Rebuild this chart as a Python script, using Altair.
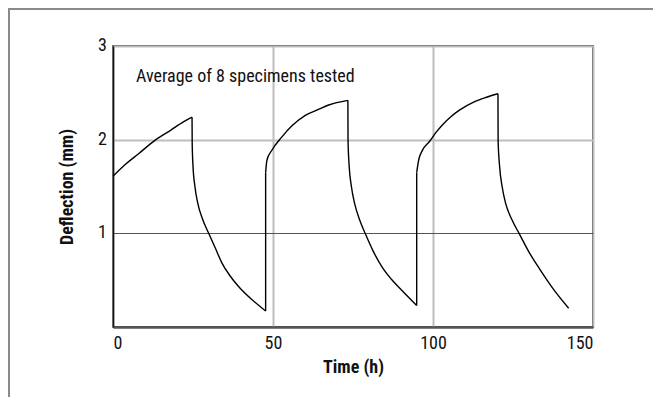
import altair as alt
import pandas as pd

# Curve pieces (segment id, time h, deflection mm)
seg_id = ([1] * 7 + [2] * 13 + [3] * 9 + [4] * 12 + [5] * 11 + [6] * 11)
time_h = [0, 4, 8, 13, 18, 22, 24.7,
          24.7, 24.75, 25.0, 25.6, 26.5, 28.0, 29.9, 32, 34.1, 36.5, 39.3, 43.5, 47.7,
          47.7, 48.1, 49.7, 52.8, 56, 60.1, 64, 67.4, 73.4,
          73.4, 73.45, 73.8, 74.5, 75.5, 77.0, 78.8, 81.3, 84.1, 87, 90.3, 94.9,
          94.9, 95.5, 96.6, 98.9, 101, 103, 105.4, 108.5, 112.7, 116.5, 120.3,
          120.3, 120.35, 120.8, 121.6, 122.7, 124.6, 126.9, 130.0, 133.5, 137.5, 142.4]
deflection_mm = [1.61, 1.74, 1.85, 1.99, 2.10, 2.19, 2.24,
                 2.24, 1.96, 1.72, 1.50, 1.32, 1.15, 1.00, 0.84, 0.68, 0.55, 0.43, 0.29, 0.17,
                 1.65, 1.78, 1.89, 2.03, 2.15, 2.26, 2.32, 2.37, 2.42,
                 2.42, 1.99, 1.72, 1.50, 1.32, 1.15, 1.00, 0.81, 0.64, 0.51, 0.39, 0.23,
                 1.65, 1.78, 1.88, 1.98, 2.08, 2.16, 2.24, 2.32, 2.40, 2.45, 2.49,
                 2.49, 1.99, 1.72, 1.50, 1.32, 1.15, 1.00, 0.80, 0.61, 0.41, 0.20]

# Vertical jumps when load is re-applied
jump_t = [47.7, 94.9]
jump_low = [0.17, 0.23]
jump_high = [1.65, 1.65]

x_ticks = [0, 50, 100, 150]
y_ticks = [1, 2, 3]
y_tick_labels = ["1", "2", "3"]
note = "Average of 8  specimens tested"

df = pd.DataFrame({"seg": seg_id, "t": time_h, "d": deflection_mm})
jumps = pd.DataFrame({"t": jump_t, "lo": jump_low, "hi": jump_high})
ylab = pd.DataFrame({"v": y_ticks, "lab": y_tick_labels})

FONT = "Roboto Condensed, Liberation Sans Narrow, Roboto, sans-serif"

x_scale = alt.Scale(domain=[0, 150], nice=False)
y_scale = alt.Scale(domain=[0, 3], nice=False)

x_axis = alt.Axis(values=x_ticks, title="Time (h)", grid=True, format="d",
                  gridColor="#bdbdbd", gridWidth=2,
                  domainColor="#555555", domainWidth=2.5,
                  ticks=False, labelPadding=7, labelAngle=0,
                  labelFont=FONT, labelFontSize=18, labelColor="#111111",
                  titleFont=FONT, titleFontSize=18, titleFontWeight="bold",
                  titleColor="#111111", titlePadding=6)
y_axis = alt.Axis(values=y_ticks, title="Deflection (mm)", grid=True, labels=False,
                  gridColor=alt.condition("datum.value == 1", alt.value("#555555"), alt.value("#bdbdbd")),
                  gridWidth=alt.condition("datum.value == 1", alt.value(1.2), alt.value(2)),
                  domainColor="#111111", domainWidth=1.5, ticks=False,
                  titleFont=FONT, titleFontSize=18, titleFontWeight="bold",
                  titleColor="#111111", titlePadding=37)

curves = alt.Chart(df).mark_line(color="#000000", strokeWidth=1.4,
                                 interpolate="monotone").encode(
    x=alt.X("t:Q", scale=x_scale, axis=x_axis),
    y=alt.Y("d:Q", scale=y_scale, axis=y_axis),
    detail="seg:N")

jump_rules = alt.Chart(jumps).mark_rule(color="#000000", strokeWidth=1.4).encode(
    x=alt.X("t:Q", scale=x_scale),
    y=alt.Y("lo:Q", scale=y_scale), y2="hi:Q")

y_labels = alt.Chart(ylab).mark_text(
    align="right", baseline="middle", font=FONT, fontSize=18, color="#111111",
    dx=-6, clip=False
).encode(x=alt.value(0), y=alt.Y("v:Q", scale=y_scale), text="lab:N")

text = alt.Chart(pd.DataFrame({"label": [note]})).mark_text(
    align="left", baseline="middle", font=FONT, fontSize=18, color="#111111"
).encode(x=alt.value(23), y=alt.value(31), text="label:N")

frame = alt.Chart(pd.DataFrame({"a": [0]})).mark_rect(
    fill=None, stroke="#8a8a8a", strokeWidth=2, clip=False
).encode(x=alt.value(-104), x2=alt.value(700), y=alt.value(-37), y2=alt.value(450))

chart = alt.layer(curves, jump_rules, y_labels, text, frame).properties(
    width=480, height=281,
    autosize=alt.AutoSizeParams(type="none"),
    padding={"left": 105, "top": 38, "right": 60, "bottom": 70},
).configure_view(
    stroke="#111111", strokeWidth=1.5
)

chart.save("out.html", embed_options={"renderer": "svg", "actions": False})
